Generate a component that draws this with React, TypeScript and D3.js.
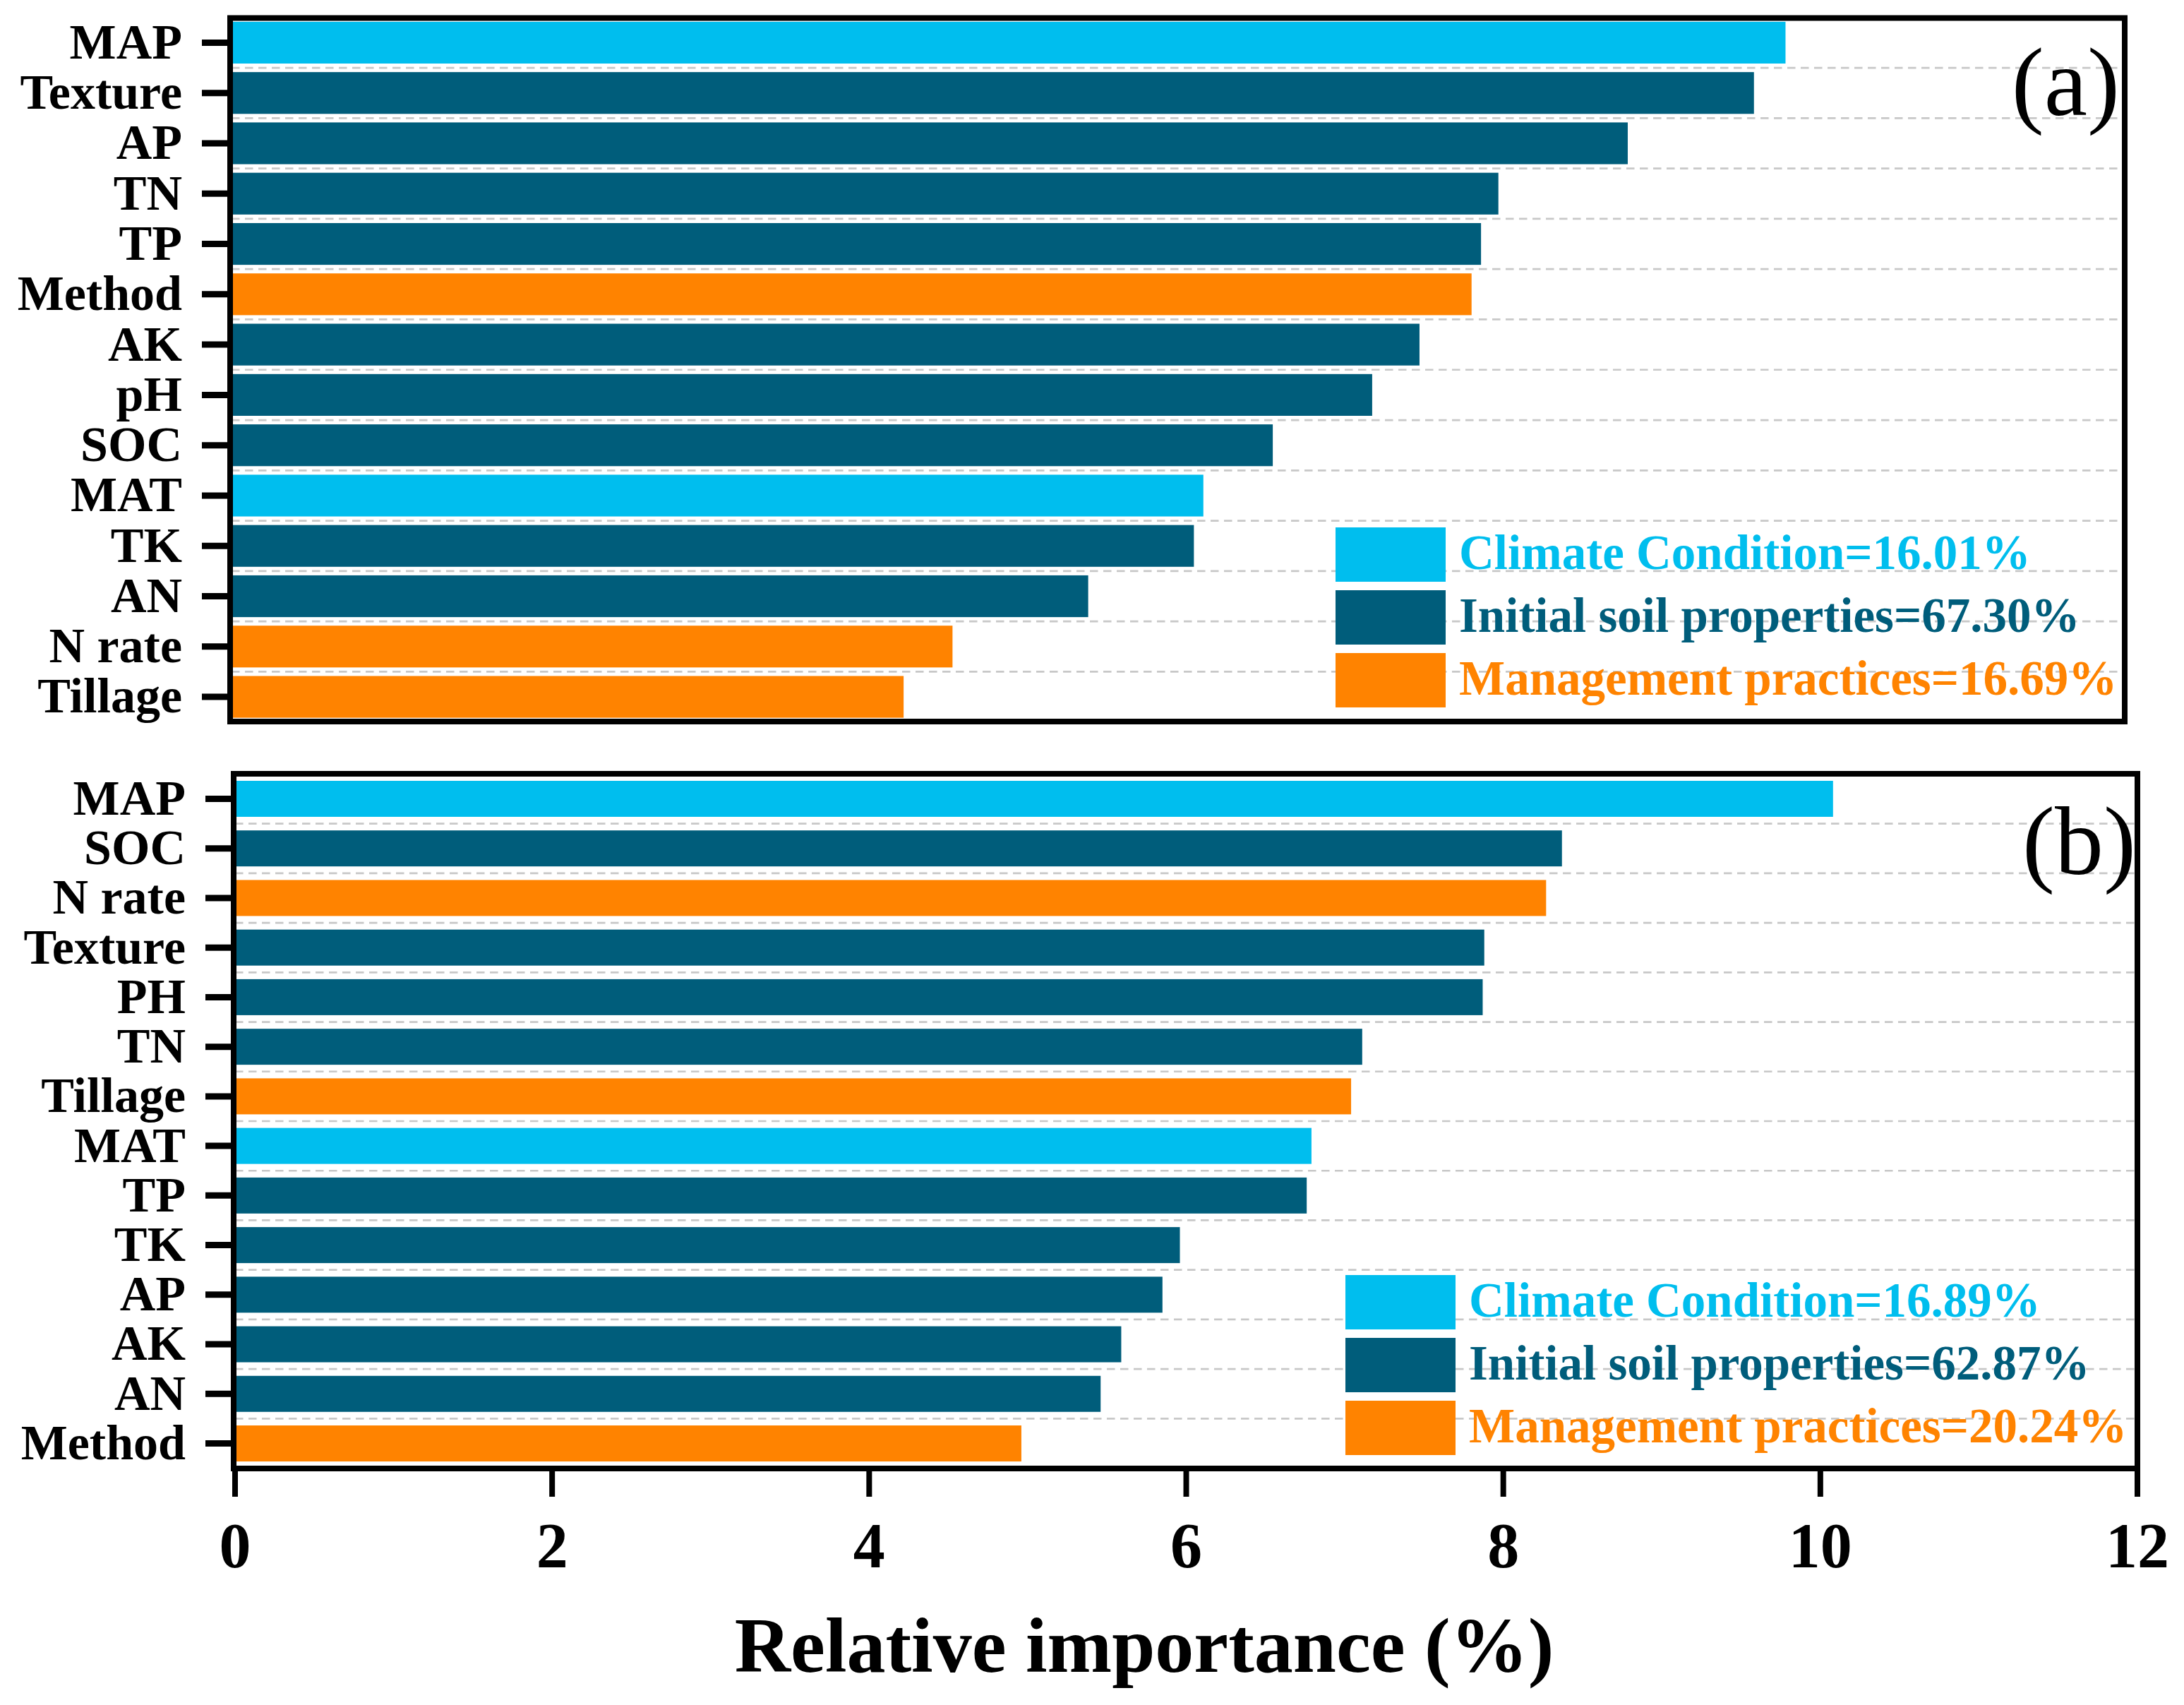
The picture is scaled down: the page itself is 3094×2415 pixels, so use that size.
import React from "react";
import * as d3 from "d3";

const labelsA = ["MAP", "Texture", "AP", "TN", "TP", "Method", "AK", "pH", "SOC", "MAT", "TK", "AN", "N rate", "Tillage"];
const valuesA = [9.85, 9.65, 8.85, 8.03, 7.92, 7.86, 7.53, 7.23, 6.6, 6.16, 6.1, 5.43, 4.57, 4.26];
const groupsA = ["climate", "soil", "soil", "soil", "soil", "mgmt", "soil", "soil", "soil", "climate", "soil", "soil", "mgmt", "mgmt"];
const legendA = ["Climate Condition=16.01%", "Initial soil properties=67.30%", "Management practices=16.69%"];

const labelsB = ["MAP", "SOC", "N rate", "Texture", "PH", "TN", "Tillage", "MAT", "TP", "TK", "AP", "AK", "AN", "Method"];
const valuesB = [10.08, 8.37, 8.27, 7.88, 7.87, 7.11, 7.04, 6.79, 6.76, 5.96, 5.85, 5.59, 5.46, 4.96];
const groupsB = ["climate", "soil", "mgmt", "soil", "soil", "soil", "mgmt", "climate", "soil", "soil", "soil", "soil", "soil", "mgmt"];
const legendB = ["Climate Condition=16.89%", "Initial soil properties=62.87%", "Management practices=20.24%"];

const groupKeys = ["climate", "soil", "mgmt"];
const xTicks = [0, 2, 4, 6, 8, 10, 12];
const xDomain = [0, 12];
const xTitle = "Relative importance (%)";

const colors = d3.scaleOrdinal<string, string>().domain(groupKeys).range(["#00BEEE", "#005D7B", "#FF8300"]);

const FONT = "'Liberation Serif', 'Times New Roman', serif";

type PanelProps = {
  labels: string[];
  values: number[];
  groups: string[];
  legend: string[];
  letter: string;
  left: number;
  right: number;
  top: number;
  bottom: number;
  padInner: number;
  padOuter: number;
  legendX: number;
  legendY: number;
  legendStep: number;
  letterX: number;
  letterY: number;
  showAxis: boolean;
};

function Panel(p: PanelProps) {
  const x = d3.scaleLinear().domain(xDomain).range([p.left, p.right]);
  const y = d3
    .scaleBand<string>()
    .domain(p.labels)
    .range([p.top, p.bottom])
    .paddingInner(p.padInner)
    .paddingOuter(p.padOuter);
  const bw = y.bandwidth();
  const gap = y.step() - bw;
  return (
    <g>
      {p.labels.slice(1).map((l) => (
        <line
          key={"g" + l}
          x1={p.left}
          x2={p.right}
          y1={(y(l) as number) - gap / 2}
          y2={(y(l) as number) - gap / 2}
          stroke="#c8c8c8"
          strokeWidth={2.7}
          strokeDasharray="11.5 7.5"
        />
      ))}
      {p.labels.map((l, i) => (
        <rect
          key={"b" + l}
          x={x(0)}
          y={y(l) as number}
          width={x(p.values[i]) - x(0)}
          height={bw}
          fill={colors(p.groups[i])}
        />
      ))}
      {groupKeys.map((g, i) => (
        <g key={"lg" + g}>
          <rect x={p.legendX} y={p.legendY + i * p.legendStep} width={156} height={77} fill={colors(g)} />
          <text
            x={p.legendX + 175}
            y={p.legendY + i * p.legendStep + 38.5}
            dy="0.3em"
            fontFamily={FONT}
            fontWeight="bold"
            fontSize={69}
            fill={colors(g)}
          >
            {p.legend[i]}
          </text>
        </g>
      ))}
      <rect
        x={p.left - 2}
        y={p.top}
        width={p.right - p.left + 2}
        height={p.bottom - p.top}
        fill="none"
        stroke="#000"
        strokeWidth={8}
      />
      {p.labels.map((l) => {
        const cy = (y(l) as number) + bw / 2;
        return (
          <g key={"t" + l}>
            <line x1={p.left - 42} x2={p.left - 2} y1={cy} y2={cy} stroke="#000" strokeWidth={9} />
            <text
              x={p.left - 70}
              y={cy}
              dy="0.32em"
              textAnchor="end"
              fontFamily={FONT}
              fontWeight="bold"
              fontSize={70}
              fill="#000"
            >
              {l}
            </text>
          </g>
        );
      })}
      <text
        x={p.letterX}
        y={p.letterY}
        textAnchor="end"
        fontFamily={FONT}
        fontSize={138}
        fill="#000"
      >
        {p.letter}
      </text>
      {p.showAxis && (
        <g>
          {xTicks.map((t) => (
            <g key={"x" + t}>
              <line x1={x(t)} x2={x(t)} y1={p.bottom} y2={p.bottom + 40} stroke="#000" strokeWidth={8} />
              <text
                x={x(t)}
                y={2220}
                textAnchor="middle"
                fontFamily={FONT}
                fontWeight="bold"
                fontSize={90}
                fill="#000"
              >
                {t}
              </text>
            </g>
          ))}
        </g>
      )}
    </g>
  );
}

export default function App() {
  return (
    <svg
      width={3094}
      height={2415}
      viewBox="0 0 3094 2415"
      style={{ position: "absolute", left: 0, top: 0, background: "#fff" }}
    >
      <rect x={0} y={0} width={3094} height={2415} fill="#fff" />
      <Panel
        labels={labelsA}
        values={valuesA}
        groups={groupsA}
        legend={legendA}
        letter="(a)"
        left={328}
        right={3010}
        top={25.5}
        bottom={1022}
        padInner={0.17}
        padOuter={0.075}
        legendX={1892}
        legendY={747}
        legendStep={89}
        letterX={3003}
        letterY={163}
        showAxis={false}
      />
      <Panel
        labels={labelsB}
        values={valuesB}
        groups={groupsB}
        legend={legendB}
        letter="(b)"
        left={333}
        right={3028}
        top={1096}
        bottom={2080}
        padInner={0.274}
        padOuter={0.142}
        legendX={1906}
        legendY={1806}
        legendStep={89}
        letterX={3026}
        letterY={1238}
        showAxis={true}
      />
      <text
        x={1621}
        y={2368}
        textAnchor="middle"
        fontFamily={FONT}
        fontWeight="bold"
        fontSize={110}
        fill="#000"
      >
        {xTitle}
      </text>
    </svg>
  );
}
